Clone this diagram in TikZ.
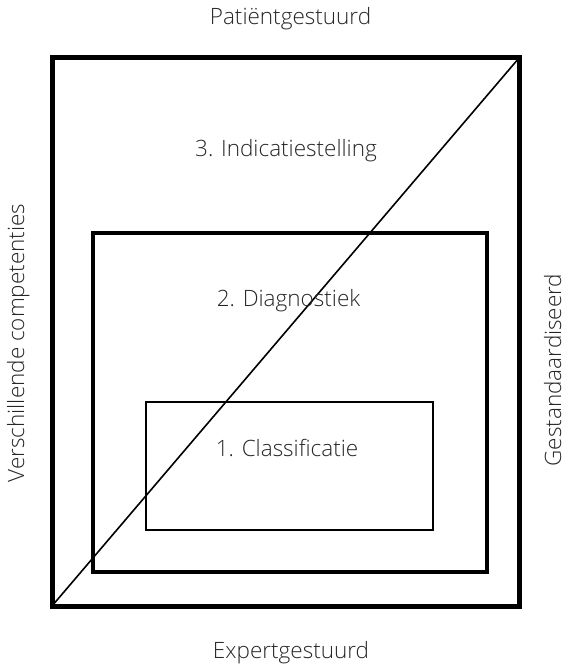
\documentclass[tikz,border=0pt]{standalone}
\usepackage{fontspec}
\setmainfont{Open Sans Light}
\begin{document}
\begin{tikzpicture}[x=1pt,y=-1pt,
  lbl/.style={font=\fontsize{22.5}{26}\selectfont, text=black!85, inner sep=0pt, anchor=base},
  outerbox/.style={draw, line width=5pt},
  midbox/.style={draw, line width=3.5pt},
  innerbox/.style={draw, line width=1.5pt},
  diag/.style={draw, line width=1.6pt}]
\useasboundingbox (0,0) rectangle (566,668);
\path[outerbox] (52,58) rectangle (519,606);
\path[midbox] (93,233) rectangle (487,572);
\path[innerbox] (146,402) rectangle (433,530);
\coordinate (bl) at (52,606);
\coordinate (tr) at (519,58);
\path[diag] (bl) -- (tr);
\node[lbl] (top) at (290.5,25) {Patiëntgestuurd};
\node[lbl] (bottom) at (291,658) {Expertgestuurd};
\node[lbl] (three) at (286,157) {3. Indicatiestelling};
\node[lbl] (two) at (288.5,306) {2. Diagnostiek};
\node[lbl] (one) at (287,456) {1. Classificatie};
\node[lbl, rotate=90] (left) at (24,343) {Verschillende competenties};
\node[lbl, rotate=90] (right) at (561,370) {Gestandaardiseerd};
\end{tikzpicture}
\end{document}
